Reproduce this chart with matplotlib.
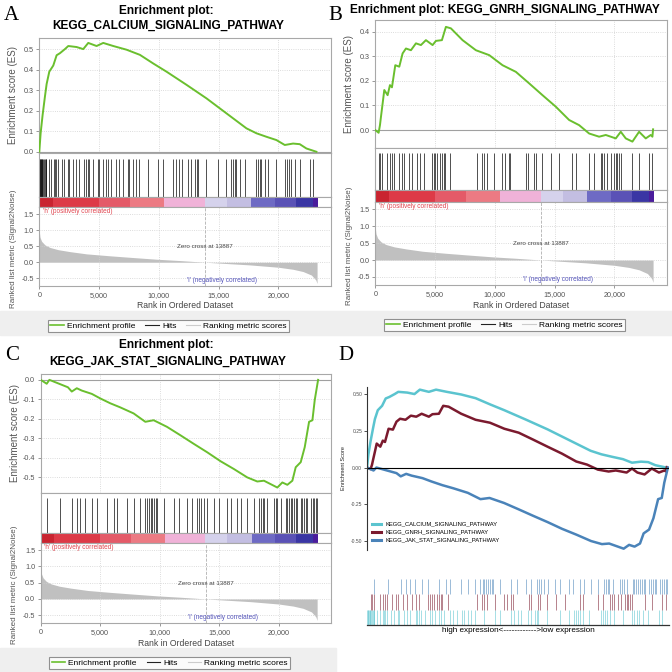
import matplotlib.pyplot as plt
from matplotlib.lines import Line2D
from matplotlib.patches import Rectangle

plt.rcParams['font.family'] = ['Liberation Sans', 'DejaVu Sans']

# ---- values ----
# running enrichment score as (rank, ES) points
calcium_rank = [0, 111, 279, 474, 613, 836, 1170, 1449, 1727, 2145, 2424, 3120, 3677, 4095,
                4792, 5349, 6185, 7299, 8414, 9528, 10642, 12314, 13986, 15657, 17329, 18165,
                19000, 19836, 20533, 21229, 21786, 22343, 23180]
calcium_es = [0, 0.09, 0.18, 0.27, 0.33, 0.39, 0.42, 0.47, 0.48, 0.50, 0.515, 0.51, 0.50, 0.53,
              0.515, 0.53, 0.515, 0.497, 0.472, 0.43, 0.39, 0.326, 0.26, 0.187, 0.114, 0.09,
              0.073, 0.057, 0.033, 0.04, 0.037, 0.016, 0.0]

gnrh_rank = [0, 279, 390, 474, 613, 752, 1031, 1226, 1393, 1672, 2006, 2284, 2563, 2981, 3399,
             3817, 4234, 4792, 5071, 5572, 5906, 6324, 7299, 8414, 9528, 10642, 11757, 12871,
             13986, 15100, 16214, 17050, 17886, 18722, 19279, 20115, 20533, 20951, 21507,
             22065, 22622, 23040, 23180, 23235]
gnrh_es = [0, -0.011, 0.02, 0.054, 0.108, 0.163, 0.142, 0.183, 0.174, 0.264, 0.258, 0.312,
           0.332, 0.325, 0.353, 0.346, 0.366, 0.346, 0.363, 0.366, 0.42, 0.414, 0.366, 0.325,
           0.305, 0.264, 0.237, 0.19, 0.142, 0.095, 0.041, 0.02, -0.014, -0.027, -0.02, -0.034,
           -0.007, -0.034, -0.047, -0.007, -0.034, -0.02, -0.027, 0.003]

jak_rank = [0, 506, 730, 2286, 2612, 3034, 3455, 4298, 5000, 5843, 6685, 7809, 8792, 9494,
            10618, 11742, 12865, 13989, 15113, 16236, 17360, 18203, 18765, 19889, 20310, 20731,
            21153, 21434, 21855, 22192, 22557, 22838, 23034, 23315]
jak_es = [0, -0.02, 0, -0.038, -0.06, -0.043, -0.055, -0.072, -0.095, -0.12, -0.141, -0.172,
          -0.215, -0.207, -0.241, -0.284, -0.328, -0.371, -0.417, -0.457, -0.5, -0.521, -0.517,
          -0.552, -0.526, -0.538, -0.517, -0.448, -0.422, -0.345, -0.215, -0.207, -0.103, 0]

# gene set hits (rank positions)
calcium_hits = [20, 60, 110, 150, 200, 250, 300, 380, 450, 520, 560, 785, 977, 1230, 1330, 1430,
                1537, 1896, 2088, 2372, 2506, 2840, 3065, 3341, 3760, 3900, 4050, 4176, 4460,
                4880, 5010, 5295, 5570, 5713, 5989, 6407, 6685, 6969, 7385, 7520, 7805, 8078,
                8355, 9057, 9893, 10310, 11145, 11420, 11700, 11896, 12447, 12731, 13010, 13150,
                13283, 13985, 14954, 15656, 16073, 16200, 16350, 16491, 16767, 17185, 18162,
                18300, 18450, 18580, 18855, 19131, 19832, 20525, 20700, 20900, 21084, 21360,
                21778, 22612, 22893]
gnrh_hits = [284, 400, 560, 977, 1253, 1400, 1537, 1955, 2230, 2372, 2790, 3066, 3484, 3759,
             4043, 4737, 4880, 5020, 5154, 5430, 5572, 5714, 5847, 6265, 8496, 8914, 9100, 9332,
             9891, 10585, 10860, 11144, 11278, 12590, 12732, 13283, 13425, 13985, 14678, 15371,
             16491, 16767, 17878, 18295, 18855, 18995, 19131, 19414, 19689, 19965, 20108, 20250,
             20400, 20525, 21503, 22055, 22890, 23174]
jak_hits = [562, 1629, 2612, 3034, 3315, 3736, 4298, 4719, 5562, 6124, 6405, 7247, 7809, 8371,
            8792, 8950, 9100, 9250, 9354, 9494, 9650, 9775, 10337, 11180, 11601, 12303, 12725,
            13146, 13300, 13500, 13708, 13989, 14551, 14972, 15674, 15955, 16517, 16798, 17360,
            17921, 18343, 18500, 18650, 18765, 19046, 19608, 19750, 19889, 20170, 20591, 20700,
            20850, 21013, 21153, 21300, 21450, 21574, 21855, 22000, 22150, 22300, 22417, 22698,
            22850, 23000, 23150, 23259]

# ranked list metric (Signal2Noise)
metric_rank = [0, 56, 195, 474, 891, 1588, 2563, 3956, 5906, 7856, 9806, 11757, 13887, 15657,
               17608, 20003, 21229, 22065, 22761, 23124, 23235]
metric_value = [0.96, 0.78, 0.65, 0.54, 0.46, 0.39, 0.33, 0.26, 0.20, 0.146, 0.094, 0.052, 0,
                -0.04, -0.083, -0.156, -0.22, -0.29, -0.4, -0.55, -0.66]
zero_cross = 13887

# colour bar under the hits
bar_edges = [0, 1120, 5000, 7600, 10450, 13850, 15700, 17750, 19700, 21500, 22900, 23300]
bar_colors = ['#c92430', '#dd3a47', '#e45a68', '#ec7a83', '#f0b2d8', '#d5d2ec', '#c3bee2',
              '#6e6ac4', '#5a52b6', '#3a36a4', '#4a1c9c']

rank_ticks = [0, 5000, 10000, 15000, 20000]
rank_labels = ['0', '5,000', '10,000', '15,000', '20,000']

GREEN = '#6abf2e'
XMAX = 24400

fig = plt.figure(figsize=(6.72, 6.72), dpi=100)


def rect(x0, y0, x1, y1):
    # pixel box (origin top-left) -> figure fraction
    return [x0 / 672, 1 - y1 / 672, (x1 - x0) / 672, (y1 - y0) / 672]


def fy(y):
    return 1 - y / 672


def frame(ax):
    for s in ax.spines.values():
        s.set_color('#a8a8a8')
        s.set_linewidth(0.8)
    ax.tick_params(colors='#888888', labelcolor='#555555', labelsize=5.2, length=2, width=0.6,
                   pad=2)


# gray bands behind the GSEA legends
for bx, by, bw, bh in [(0, 311, 672, 24), (0, 648, 336, 24)]:
    fig.patches.append(Rectangle((bx / 672, fy(by + bh)), bw / 672, bh / 672,
                                 transform=fig.transFigure, color='#efefef', zorder=0))


def gsea_panel(x0, x1, ys, rank, es, hits, es_lim, es_ticks):
    es_top, es_bot, hit_bot, bar_bot, rank_bot = ys

    ax = fig.add_axes(rect(x0, es_top, x1, es_bot))
    ax.plot(rank, es, color=GREEN, lw=1.4, zorder=3)
    ax.axhline(0, color='#a0a0a0', lw=0.8)
    ax.set_xlim(0, XMAX)
    ax.set_ylim(*es_lim)
    ax.set_yticks(es_ticks)
    ax.set_yticklabels([f'{t:.1f}' for t in es_ticks])
    ax.set_xticks(rank_ticks)
    ax.tick_params(axis='x', length=0, labelbottom=False)
    ax.grid(color='#d0d0d0', linestyle=':', lw=0.6)
    frame(ax)

    hx = fig.add_axes(rect(x0, es_bot, x1, hit_bot))
    hx.vlines(hits, 0, 0.87, color='black', lw=0.6, alpha=0.8)
    hx.set_xlim(0, XMAX)
    hx.set_ylim(0, 1)
    hx.set_xticks([])
    hx.set_yticks([])
    frame(hx)

    bx = fig.add_axes(rect(x0, hit_bot, x1, bar_bot))
    for i, c in enumerate(bar_colors):
        bx.axvspan(bar_edges[i], bar_edges[i + 1], color=c, lw=0)
    bx.set_xlim(0, XMAX)
    bx.set_xticks([])
    bx.set_yticks([])
    frame(bx)

    rx = fig.add_axes(rect(x0, bar_bot, x1, rank_bot))
    rx.fill_between(metric_rank, metric_value, 0, color='#c0c0c0', lw=0)
    rx.axvline(zero_cross, color='#b0b0b0', lw=0.6, ls='--')
    rx.set_xlim(0, XMAX)
    rx.set_ylim(-0.74, 1.72)
    rx.set_yticks([-0.5, 0.0, 0.5, 1.0, 1.5])
    rx.set_yticklabels(['-0.5', '0.0', '0.5', '1.0', '1.5'])
    rx.set_xticks(rank_ticks)
    rx.set_xticklabels(rank_labels)
    rx.grid(color='#d0d0d0', linestyle=':', lw=0.6)
    frame(rx)
    rx.text(300, 1.7, "'h' (positively correlated)", color='#e0454f', fontsize=4.7, va='top')
    rx.text(zero_cross, 0.48, 'Zero cross at 13887', color='#444444', fontsize=4.5,
            ha='center', va='center')
    rx.text(15300, -0.68, "'l' (negatively correlated)", color='#5555bb', fontsize=4.7,
            ha='center', va='bottom')

    cx = (x0 + x1) / 2
    fig.text(cx / 672, fy(rank_bot + 20), 'Rank in Ordered Dataset', fontsize=6.2,
             color='#444444', ha='center', va='center')
    fig.text((x0 - 26) / 672, fy((es_top + es_bot) / 2), 'Enrichment score (ES)', fontsize=7,
             color='#555555', rotation=90, ha='center', va='center')
    fig.text((x0 - 26) / 672, fy((bar_bot + rank_bot) / 2 + 2),
             'Ranked list metric (Signal2Noise)', fontsize=5.8, color='#555555', rotation=90,
             ha='center', va='center')

    handles = [Line2D([], [], color=GREEN, lw=1.2), Line2D([], [], color='#222222', lw=0.8),
               Line2D([], [], color='#cccccc', lw=0.8)]
    leg = fig.legend(handles, ['Enrichment profile', 'Hits', 'Ranking metric scores'],
                     loc='center', bbox_to_anchor=((x0 + 129) / 672, fy(rank_bot + 40)), ncol=3,
                     fontsize=6, frameon=True, fancybox=False, edgecolor='#777777',
                     handlelength=1.6, handletextpad=0.4, columnspacing=1.2, borderpad=0.25)
    leg.get_frame().set_linewidth(0.8)


# A
gsea_panel(39.3, 331, (38, 153, 197, 207, 286), calcium_rank, calcium_es, calcium_hits,
           (-0.006, 0.554), [0.0, 0.1, 0.2, 0.3, 0.4, 0.5])
fig.text(166 / 672, fy(11), 'Enrichment plot:', fontsize=8.6, fontweight='bold', ha='center',
         va='center')
fig.text(168 / 672, fy(26), 'KEGG_CALCIUM_SIGNALING_PATHWAY', fontsize=8.6, fontweight='bold',
         ha='center', va='center')

# B
gsea_panel(375.3, 667, (20, 148, 190, 202, 285), gnrh_rank, gnrh_es, gnrh_hits,
           (-0.073, 0.448), [0.0, 0.1, 0.2, 0.3, 0.4])
fig.text(505 / 672, fy(10), 'Enrichment plot: KEGG_GNRH_SIGNALING_PATHWAY', fontsize=8.6,
         fontweight='bold', ha='center', va='center')

# C
gsea_panel(40.7, 331, (374, 493, 533, 543, 623), jak_rank, jak_es, jak_hits,
           (-0.58, 0.03), [0.0, -0.1, -0.2, -0.3, -0.4, -0.5])
fig.text(166 / 672, fy(345), 'Enrichment plot:', fontsize=8.6, fontweight='bold', ha='center',
         va='center')
fig.text(168 / 672, fy(362), 'KEGG_JAK_STAT_SIGNALING_PATHWAY', fontsize=8.6,
         fontweight='bold', ha='center', va='center')

# panel letters
for letter, lx, ly in [('A', 4, 16), ('B', 328, 16), ('C', 5, 356), ('D', 338, 356)]:
    fig.text(lx / 672, fy(ly), letter, fontsize=15, family='Liberation Serif', va='center')

# D: combined running scores
D_COLORS = ['#5bc4cf', '#7b1a2e', '#4a83b9']
D_NAMES = ['KEGG_CALCIUM_SIGNALING_PATHWAY', 'KEGG_GNRH_SIGNALING_PATHWAY',
           'KEGG_JAK_STAT_SIGNALING_PATHWAY']

dx = fig.add_axes(rect(367, 387, 669, 550))
for r, e, c in zip([calcium_rank, gnrh_rank, jak_rank], [calcium_es, gnrh_es, jak_es], D_COLORS):
    dx.plot(r, e, color=c, lw=1.8)
dx.axhline(0, color='black', lw=0.8)
dx.set_xlim(0, 23400)
dx.set_ylim(-0.561, 0.548)
dx.set_yticks([-0.5, -0.25, 0, 0.25, 0.5])
dx.set_yticklabels(['-0.50', '-0.25', '0.00', '0.25', '0.50'])
dx.set_xticks([])
for s in ['top', 'right', 'bottom']:
    dx.spines[s].set_visible(False)
dx.spines['left'].set_color('#333333')
dx.spines['left'].set_linewidth(0.8)
dx.tick_params(axis='y', labelsize=3.6, labelcolor='#4d4d4d', color='#333333', length=2,
               width=0.6, pad=1.5)
dx.set_ylabel('Enrichment Score', fontsize=4, color='#222222', labelpad=3)
dhandles = [Line2D([], [], color=c, lw=2.2) for c in D_COLORS]
dx.legend(dhandles, D_NAMES, loc='lower left', bbox_to_anchor=(0.01, 0.03), fontsize=4.2,
          frameon=False, handlelength=1.4, handletextpad=0.9, labelspacing=0.5, borderaxespad=0)

# D: hit rug
rug = fig.add_axes(rect(367, 579, 669, 625))
for row, (hits, c) in enumerate(zip([calcium_hits, gnrh_hits, jak_hits], D_COLORS)):
    rug.vlines(hits, row, row + 1, color=c, lw=0.7, alpha=0.55)
rug.set_xlim(0, 23400)
rug.set_ylim(0, 3)
rug.set_xticks([])
rug.set_yticks([])
for s in ['top', 'right', 'left']:
    rug.spines[s].set_visible(False)
rug.spines['bottom'].set_color('#333333')
rug.spines['bottom'].set_linewidth(0.9)
fig.text(518 / 672, fy(631), 'high expression<------------>low expression', fontsize=5.9,
         ha='center', va='center')

fig.savefig('out.png', dpi=100)
